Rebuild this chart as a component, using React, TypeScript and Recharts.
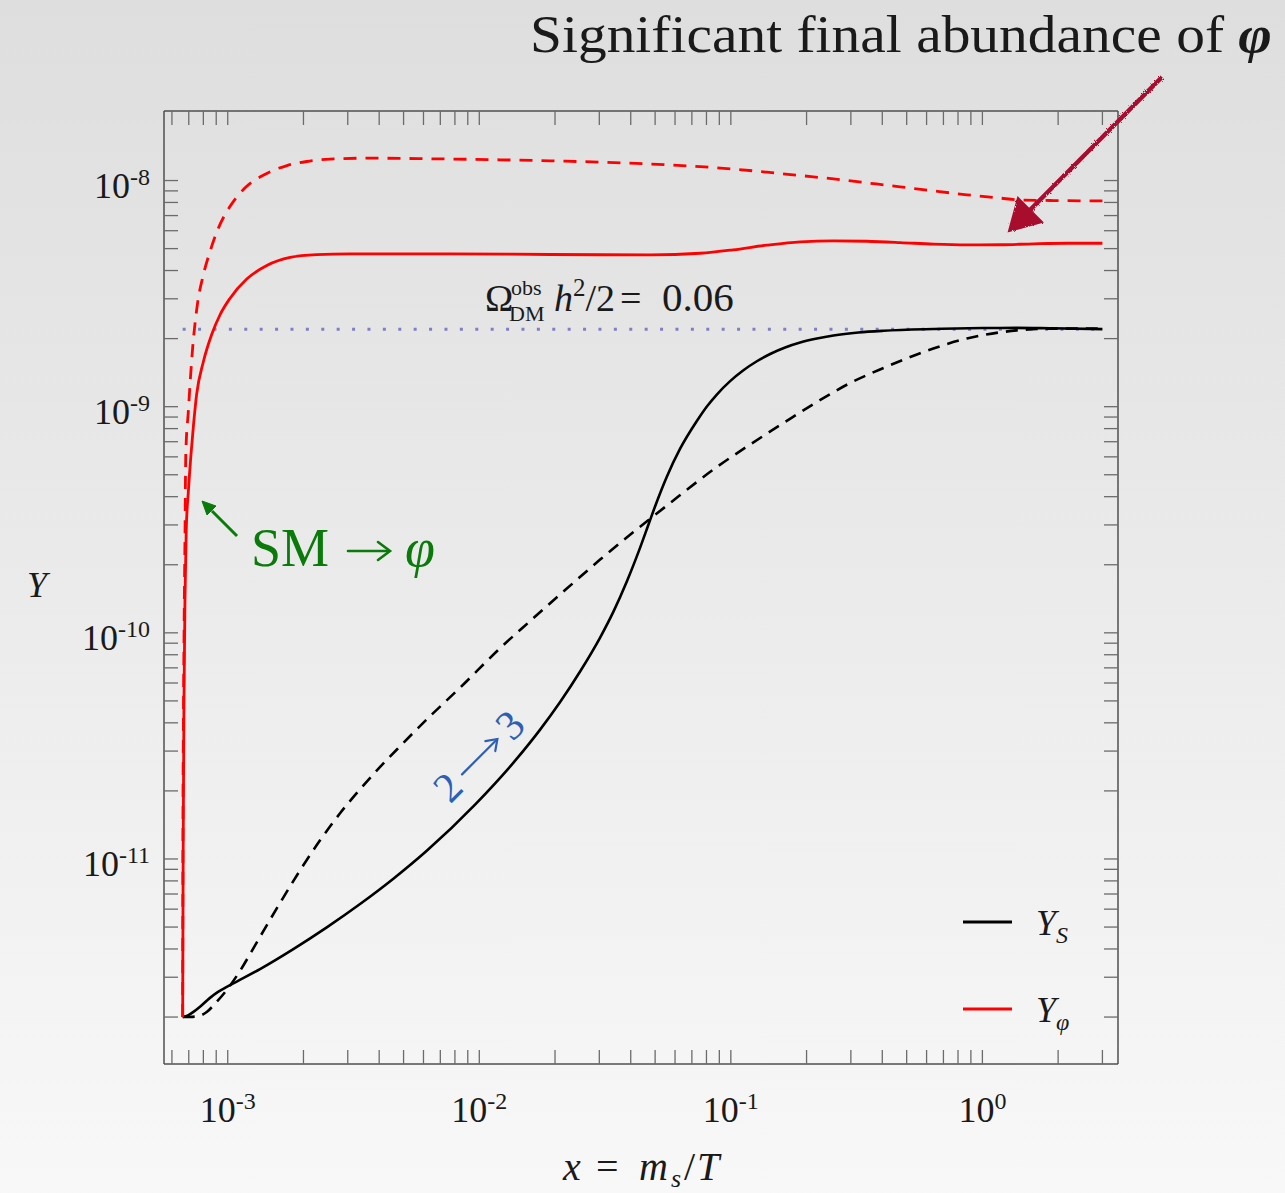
import { Line, LineChart, XAxis, YAxis } from "recharts";

const WIDTH = 1285;
const HEIGHT = 1193;
// plot frame in page pixels
const PLOT = { left: 164, top: 111, right: 1118, bottom: 1064 };

const FONT = '"Liberation Serif", "DejaVu Serif", serif';
const FRAME = "#4f4f4f";
const TICK = "#6b6b6b";
const INK = "#1a1a1a";
const GREEN = "#0a7a0a";
const TICK_LEN = 14;

// x = m_s / T
const xDomain = [5.58e-4, 3.46];
const yDomain = [1.24e-12, 2.03e-8];

const xTicks = [
  6e-4, 7e-4, 8e-4, 9e-4,
  1e-3, 2e-3, 3e-3, 4e-3, 5e-3, 6e-3, 7e-3, 8e-3, 9e-3,
  1e-2, 2e-2, 3e-2, 4e-2, 5e-2, 6e-2, 7e-2, 8e-2, 9e-2,
  0.1, 0.2, 0.3, 0.4, 0.5, 0.6, 0.7, 0.8, 0.9,
  1, 2, 3,
];

const yTicks = [
  2e-12, 3e-12, 4e-12, 5e-12, 6e-12, 7e-12, 8e-12, 9e-12,
  1e-11, 2e-11, 3e-11, 4e-11, 5e-11, 6e-11, 7e-11, 8e-11, 9e-11,
  1e-10, 2e-10, 3e-10, 4e-10, 5e-10, 6e-10, 7e-10, 8e-10, 9e-10,
  1e-9, 2e-9, 3e-9, 4e-9, 5e-9, 6e-9, 7e-9, 8e-9, 9e-9,
  1e-8,
];

// Y_phi, solid
const phiX = [
  6.62e-4, 6.65e-4, 6.7e-4, 6.76e-4, 6.84e-4, 6.98e-4, 7.14e-4, 7.31e-4, 7.52e-4,
  8.0e-4, 8.64e-4, 9.32e-4, 1.02e-3, 1.19e-3, 1.43e-3, 1.77e-3, 2.26e-3, 3.06e-3,
  7.65e-3, 1.91e-2, 4.78e-2, 7.55e-2, 0.102, 0.139, 0.189, 0.256, 0.347, 0.471,
  0.639, 0.868, 1.18, 1.6, 2.17, 3.0,
];
const phiY = [
  2.0e-12, 1.09e-11, 5.04e-11, 1.4e-10, 2.85e-10, 4.28e-10, 6.11e-10, 8.3e-10, 1.13e-9,
  1.58e-9, 2.09e-9, 2.55e-9, 3.01e-9, 3.67e-9, 4.21e-9, 4.57e-9, 4.7e-9, 4.74e-9,
  4.74e-9, 4.71e-9, 4.69e-9, 4.77e-9, 4.94e-9, 5.18e-9, 5.36e-9, 5.41e-9, 5.39e-9, 5.32e-9,
  5.23e-9, 5.19e-9, 5.2e-9, 5.25e-9, 5.28e-9, 5.28e-9,
];

// Y_phi, dashed
const phiDashX = [
  6.62e-4, 6.64e-4, 6.66e-4, 6.7e-4, 6.76e-4, 6.81e-4, 6.97e-4, 7.25e-4, 7.57e-4,
  8.0e-4, 8.5e-4, 9.18e-4, 1.02e-3, 1.17e-3, 1.41e-3, 1.72e-3, 2.06e-3, 2.55e-3,
  3.68e-3, 6.78e-3, 1.21e-2, 1.91e-2, 3.02e-2, 4.78e-2, 7.55e-2, 0.102, 0.139, 0.189,
  0.256, 0.347, 0.471, 0.639, 0.868, 1.18, 1.37, 1.86, 3.0,
];
const phiDashY = [
  2.0e-12, 1.82e-11, 3.35e-11, 9.28e-11, 2.57e-10, 6.11e-10, 9.5e-10, 1.81e-9, 2.82e-9,
  3.83e-9, 4.85e-9, 6.16e-9, 7.67e-9, 9.26e-9, 1.067e-8, 1.165e-8, 1.214e-8, 1.244e-8,
  1.256e-8, 1.247e-8, 1.235e-8, 1.222e-8, 1.206e-8, 1.183e-8, 1.152e-8, 1.124e-8, 1.089e-8, 1.052e-8,
  1.017e-8, 9.77e-9, 9.38e-9, 9.0e-9, 8.65e-9, 8.36e-9, 8.22e-9, 8.16e-9, 8.13e-9,
];

// Y_S, solid
const sX = [
  6.62e-4, 6.95e-4, 7.35e-4, 7.76e-4, 8.5e-4, 9.15e-4, 9.91e-4, 1.086e-3, 1.344e-3,
  1.823e-3, 2.476e-3, 3.358e-3, 4.554e-3, 6.183e-3, 9.62e-3, 1.41e-2, 1.745e-2, 2.096e-2,
  2.516e-2, 3.022e-2, 3.414e-2, 3.859e-2, 4.359e-2, 4.702e-2, 5.079e-2, 5.566e-2, 6.286e-2, 7.326e-2,
  8.03e-2, 8.796e-2, 9.936e-2, 0.1122, 0.1269, 0.1433, 0.1644, 0.1886, 0.2198, 0.2558,
  0.3216, 0.4045, 0.639, 1.01, 1.371, 1.86, 3.0,
];
const sY = [
  2.0e-12, 2.034e-12, 2.118e-12, 2.222e-12, 2.431e-12, 2.584e-12, 2.719e-12, 2.871e-12, 3.26e-12,
  3.995e-12, 4.985e-12, 6.322e-12, 8.18e-12, 1.087e-11, 1.739e-11, 2.776e-11, 3.733e-11, 4.944e-11,
  6.744e-11, 9.533e-11, 1.241e-10, 1.687e-10, 2.382e-10, 3.005e-10, 3.802e-10, 4.905e-10, 6.52e-10, 8.643e-10,
  1.002e-9, 1.132e-9, 1.297e-9, 1.449e-9, 1.588e-9, 1.71e-9, 1.827e-9, 1.921e-9, 2.001e-9, 2.064e-9,
  2.128e-9, 2.166e-9, 2.205e-9, 2.228e-9, 2.23e-9, 2.221e-9, 2.203e-9,
];

// Y_S, dashed
const sDashX = [
  6.62e-4, 7.41e-4, 8.25e-4, 8.9e-4, 9.76e-4, 1.119e-3, 1.264e-3, 1.429e-3, 1.614e-3,
  1.939e-3, 2.328e-3, 2.796e-3, 3.358e-3, 4.034e-3, 4.843e-3, 6.372e-3, 8.388e-3, 1.21e-2,
  1.641e-2, 2.228e-2, 3.022e-2, 4.1e-2, 5.566e-2, 8.796e-2, 0.1193, 0.1619, 0.2198, 0.2981,
  0.4045, 0.549, 0.868, 1.371, 1.86, 3.0,
];
const sDashY = [
  2.0e-12, 2.01e-12, 2.104e-12, 2.292e-12, 2.579e-12, 3.2e-12, 4.024e-12, 5.087e-12, 6.39e-12,
  8.913e-12, 1.209e-11, 1.593e-11, 2.034e-11, 2.553e-11, 3.152e-11, 4.28e-11, 5.72e-11, 8.557e-11,
  1.161e-10, 1.569e-10, 2.108e-10, 2.79e-10, 3.653e-10, 5.409e-10, 6.804e-10, 8.469e-10, 1.049e-9, 1.273e-9,
  1.483e-9, 1.702e-9, 2.003e-9, 2.174e-9, 2.214e-9, 2.214e-9,
];

// Omega_DM h^2 / 2 = 0.06 level
const obsX = [6.62e-4, 3.0];
const obsY = [2.2e-9, 2.2e-9];

const toPoints = (xs: number[], ys: number[]) => xs.map((x, i) => ({ x, y: ys[i] }));

const isDecade = (v: number) => Math.abs(Math.log10(v) - Math.round(Math.log10(v))) < 1e-6;

type Side = "bottom" | "top" | "left" | "right";

function FrameTick(props: any) {
  const side: Side = props.side;
  const v: number = props.payload ? props.payload.value : 1;
  const x: number = props.x ?? 0;
  const y: number = props.y ?? 0;
  const major = isDecade(v);
  const exp = Math.round(Math.log10(v));

  let line;
  if (side === "bottom") line = { x1: x, y1: PLOT.bottom, x2: x, y2: PLOT.bottom - TICK_LEN };
  else if (side === "top") line = { x1: x, y1: PLOT.top, x2: x, y2: PLOT.top + TICK_LEN };
  else if (side === "left") line = { x1: PLOT.left, y1: y, x2: PLOT.left + TICK_LEN, y2: y };
  else line = { x1: PLOT.right, y1: y, x2: PLOT.right - TICK_LEN, y2: y };

  return (
    <g>
      <line {...line} stroke={TICK} strokeWidth={1.3} />
      {major && side === "bottom" && (
        <text x={x} y={PLOT.bottom + 58} textAnchor="middle" fontSize={36} fill={INK} fontFamily={FONT}>
          10<tspan dy={-13} fontSize={24}>{exp}</tspan>
        </text>
      )}
      {major && side === "left" && (
        <text x={PLOT.left - 14} y={y + 17} textAnchor="end" fontSize={36} fill={INK} fontFamily={FONT}>
          10<tspan dy={-13} fontSize={24}>{exp}</tspan>
        </text>
      )}
    </g>
  );
}

const frameLine = { stroke: FRAME, strokeWidth: 1.5 };

export default function App() {
  return (
    <div
      style={{
        position: "absolute",
        left: 0,
        top: 0,
        width: WIDTH,
        height: HEIGHT,
        background: "linear-gradient(to bottom, #dedede 0%, #e7e7e7 35%, #efefef 65%, #f8f8f8 100%)",
        fontFamily: FONT,
      }}
    >
      <LineChart
        width={WIDTH}
        height={HEIGHT}
        margin={{
          top: PLOT.top - 20,
          right: WIDTH - PLOT.right - 20,
          bottom: HEIGHT - PLOT.bottom - 60,
          left: PLOT.left - 100,
        }}
      >
        <XAxis
          xAxisId="bottom"
          dataKey="x"
          type="number"
          scale="log"
          domain={xDomain}
          allowDataOverflow
          ticks={xTicks}
          interval={0}
          tickSize={0}
          tickMargin={0}
          height={60}
          axisLine={frameLine}
          tickLine={false}
          tick={<FrameTick side="bottom" />}
        />
        <XAxis
          xAxisId="top"
          orientation="top"
          dataKey="x"
          type="number"
          scale="log"
          domain={xDomain}
          allowDataOverflow
          ticks={xTicks}
          interval={0}
          tickSize={0}
          tickMargin={0}
          height={20}
          axisLine={frameLine}
          tickLine={false}
          tick={<FrameTick side="top" />}
        />
        <YAxis
          yAxisId="left"
          type="number"
          scale="log"
          domain={yDomain}
          allowDataOverflow
          ticks={yTicks}
          interval={0}
          tickSize={0}
          tickMargin={0}
          width={100}
          axisLine={frameLine}
          tickLine={false}
          tick={<FrameTick side="left" />}
        />
        <YAxis
          yAxisId="right"
          orientation="right"
          type="number"
          scale="log"
          domain={yDomain}
          allowDataOverflow
          ticks={yTicks}
          interval={0}
          tickSize={0}
          tickMargin={0}
          width={20}
          axisLine={frameLine}
          tickLine={false}
          tick={<FrameTick side="right" />}
        />

        <Line
          xAxisId="top"
          yAxisId="right"
          data={toPoints(obsX, obsY)}
          dataKey="y"
          type="linear"
          stroke="#7f7fc6"
          strokeWidth={3}
          strokeDasharray="3 12.4"
          dot={false}
          activeDot={false}
          isAnimationActive={false}
        />
        <Line
          xAxisId="bottom"
          yAxisId="left"
          data={toPoints(sDashX, sDashY)}
          dataKey="y"
          type="monotone"
          stroke="#000"
          strokeWidth={2.6}
          strokeDasharray="12 8"
          dot={false}
          activeDot={false}
          isAnimationActive={false}
        />
        <Line
          xAxisId="bottom"
          yAxisId="left"
          data={toPoints(sX, sY)}
          dataKey="y"
          type="monotone"
          stroke="#000"
          strokeWidth={2.6}
          dot={false}
          activeDot={false}
          isAnimationActive={false}
        />
        <Line
          xAxisId="bottom"
          yAxisId="left"
          data={toPoints(phiDashX, phiDashY)}
          dataKey="y"
          type="monotone"
          stroke="#ff0000"
          strokeWidth={2.8}
          strokeDasharray="13 9"
          dot={false}
          activeDot={false}
          isAnimationActive={false}
        />
        <Line
          xAxisId="bottom"
          yAxisId="left"
          data={toPoints(phiX, phiY)}
          dataKey="y"
          type="monotone"
          stroke="#ff0000"
          strokeWidth={2.8}
          dot={false}
          activeDot={false}
          isAnimationActive={false}
        />
      </LineChart>

      <svg
        width={WIDTH}
        height={HEIGHT}
        style={{ position: "absolute", left: 0, top: 0, pointerEvents: "none", fontFamily: FONT }}
      >
        <defs>
          <filter id="pencil" x="-10%" y="-10%" width="120%" height="120%">
            <feTurbulence type="fractalNoise" baseFrequency="0.9" numOctaves={1} result="noise" />
            <feDisplacementMap in="SourceGraphic" in2="noise" scale={3} />
          </filter>
        </defs>

        {/* headline and its arrow */}
        <text x={530} y={52} fontSize={52} fill={INK} textLength={742} lengthAdjust="spacingAndGlyphs">
          Significant final abundance of{" "}
          <tspan fontWeight="bold" fontStyle="italic">φ</tspan>
        </text>
        <g filter="url(#pencil)" fill="#a8092f" stroke="#a8092f">
          <line x1={1162} y1={77} x2={1030} y2={210} strokeWidth={4.5} />
          <polygon points="1009,231 1018,198 1042,222" strokeWidth={2} />
        </g>

        {/* axis titles */}
        <text x={27} y={597} fontSize={36} fontStyle="italic" fill={INK}>Y</text>
        <g fontSize={40} fill={INK}>
          <text x={563} y={1180} fontStyle="italic">x</text>
          <text x={596} y={1180}>=</text>
          <text x={639} y={1180} fontStyle="italic">m</text>
          <text x={671} y={1187} fontSize={26} fontStyle="italic">s</text>
          <text x={684} y={1180}>/</text>
          <text x={697} y={1180} fontStyle="italic">T</text>
        </g>

        {/* relic abundance label */}
        <text x={485} y={311} fontSize={38} fill={INK}>Ω</text>
        <text x={511} y={295} fontSize={22} fill={INK}>obs</text>
        <text x={509} y={321} fontSize={22} fill={INK}>DM</text>
        <text x={554} y={311} fontSize={38} fill={INK}>
          <tspan fontStyle="italic">h</tspan>
          <tspan dy={-15} fontSize={25}>2</tspan>
          <tspan dy={15}>/2</tspan>
        </text>
        <text x={620} y={311} fontSize={38} fill={INK}>=</text>
        <text x={662} y={311} fontSize={41} fill={INK}>0.06</text>

        {/* SM -> phi */}
        <g fill={GREEN} stroke={GREEN}>
          <line x1={237} y1={536} x2={212} y2={511} strokeWidth={3} />
          <polygon points="202,501 216,506 207,515" strokeWidth={1} />
        </g>
        <text x={251} y={566} fontSize={54} fill={GREEN}>SM</text>
        <g stroke={GREEN} strokeWidth={2.6} fill="none" strokeLinecap="round">
          <line x1={348} y1={551} x2={389} y2={551} />
          <polyline points="378,542 390,551 378,560" />
        </g>
        <text x={405} y={566} fontSize={54} fontStyle="italic" fill={GREEN}>φ</text>

        {/* 2 -> 3 */}
        <g transform="translate(479,756) rotate(-45)" fill="#2d5fb5">
          <text x={-44} y={0} textAnchor="middle" dominantBaseline="central" fontSize={42}>2</text>
          <g stroke="#2d5fb5" strokeWidth={2.2} fill="none" strokeLinecap="round">
            <line x1={-25} y1={1} x2={24} y2={1} />
            <polyline points="15,-6 25,1 15,8" />
          </g>
          <text x={44} y={0} textAnchor="middle" dominantBaseline="central" fontSize={42}>3</text>
        </g>

        {/* legend */}
        <line x1={963} y1={922} x2={1012} y2={922} stroke="#000" strokeWidth={3} />
        <text x={1036} y={935} fontSize={36} fontStyle="italic" fill={INK}>
          Y<tspan fontSize={24} dy={8}>S</tspan>
        </text>
        <line x1={963} y1={1009} x2={1012} y2={1009} stroke="#ff0000" strokeWidth={3} />
        <text x={1036} y={1022} fontSize={36} fontStyle="italic" fill={INK}>
          Y<tspan fontSize={24} dy={8}>φ</tspan>
        </text>
      </svg>
    </div>
  );
}
